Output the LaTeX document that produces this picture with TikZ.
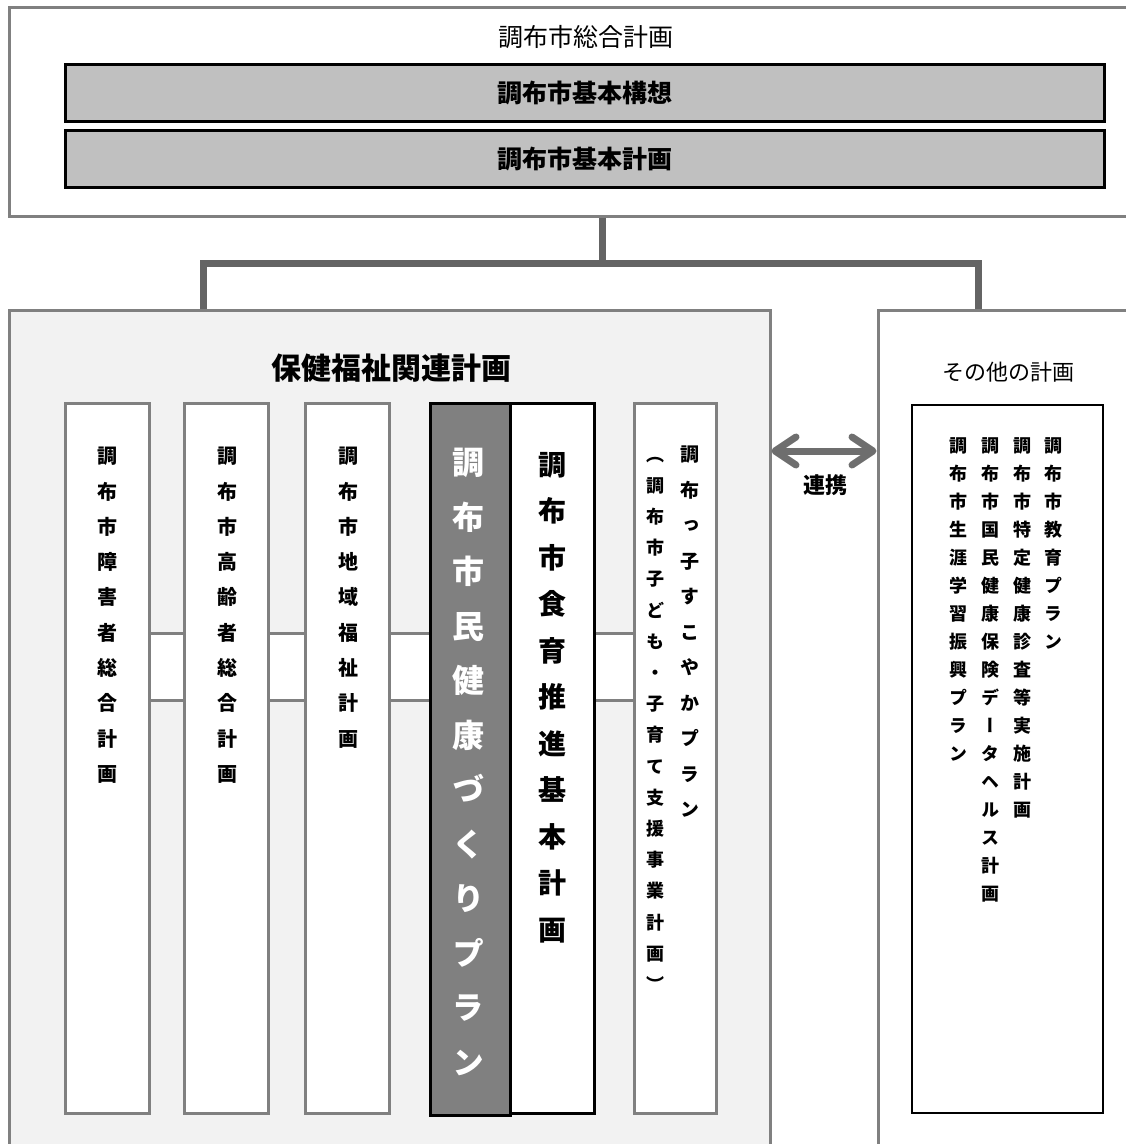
\documentclass[tikz,border=0pt]{standalone}
\usepackage{fontspec}
\usepackage{tikz}
\usetikzlibrary{positioning, arrows.meta}

\newfontfamily\gothic{Noto Sans CJK JP}
\newfontfamily\tategothic{Noto Sans CJK JP}[RawFeature=+vert]

\definecolor{frameGray}{HTML}{808080}
\definecolor{lineGray}{HTML}{646464}
\definecolor{arrowGray}{HTML}{6E6E6E}
\definecolor{boxGray}{HTML}{C0C0C0}
\definecolor{paleGray}{HTML}{F2F2F2}
\definecolor{darkGray}{HTML}{808080}

\begin{document}
\begin{tikzpicture}[x=1pt, y=-1pt,
  grayframe/.style={draw=frameGray, line width=3pt, inner sep=0pt},
  plan/.style={draw=black, line width=3pt, fill=boxGray, minimum width=1039pt, minimum height=57pt, inner sep=0pt, font=\gothic\bfseries\fontsize{25}{25}\selectfont},
  col/.style={grayframe, fill=white, minimum width=84pt, minimum height=710pt},
  vtxt/.style={align=center, inner sep=0pt, anchor=north},
  conn/.style={draw=lineGray, line width=7pt},
  band/.style={draw=frameGray, line width=3pt},
  renkei/.style={draw=arrowGray, line width=7pt, {Straight Barb[round, length=21pt, width=28pt]}-{Straight Barb[round, length=21pt, width=28pt]}}
]
  \useasboundingbox (0,0) rectangle (1126,1144);
  \clip (0,0) rectangle (1126,1144);
  \fill[white] (0,0) rectangle (1126,1144);

  % 総合計画
  \node[grayframe, minimum width=1131pt, minimum height=209.5pt] (sogo) at (574.5,111.75) {};
  \node[font=\gothic\fontsize{25}{25}\selectfont] (sogoT) at (586,37) {調布市総合計画};
  \node[plan] (koso) at (584.5,93) {調布市基本構想};
  \node[plan] (kihon) at (584.5,159) {調布市基本計画};

  % 下の二つの枠
  \node[grayframe, fill=paleGray, minimum width=761pt, minimum height=850pt] (hoken) at (389.5,735) {};
  \node[font=\gothic\bfseries\fontsize{30}{30}\selectfont] (hokenT) at (391,368) {保健福祉関連計画};
  \node[grayframe, fill=white, minimum width=262pt, minimum height=850pt] (sonota) at (1009,735) {};
  \node[font=\gothic\fontsize{22}{22}\selectfont] (sonotaT) at (1008,372) {その他の計画};
  \node[draw=black, line width=1.5pt, fill=white, minimum width=191pt, minimum height=708pt] (sonotaList) at (1007.5,759) {};

  \coordinate (hub) at (602,263);
  \coordinate (dropL) at (203,263);
  \coordinate (dropR) at (978,263);
  \draw[conn] (sogo.south -| hub) -- (hub);
  \draw[conn] (hoken.north -| dropL) -- (dropL) -- (dropR) -- (sonota.north -| dropR);

  % 計画の柱
  \node[col] (shogai) at (107,758) {};
  \node[col] (korei) at (226.5,758) {};
  \node[col] (chiiki) at (347.5,758) {};
  \node[col, draw=black] (shokuiku) at (552,758) {};
  \node[col, draw=black, fill=darkGray, minimum width=80pt, minimum height=712pt] (kenko) at (470,759) {};
  \node[col, minimum width=82pt] (sukoyaka) at (675,758) {};

  \coordinate (bandTop) at (0,633);
  \coordinate (bandBot) at (0,700);
  \foreach \a/\b in {shogai/korei, korei/chiiki, chiiki/kenko, shokuiku/sukoyaka} {
    \fill[white] (\a.east |- bandTop) rectangle (\b.west |- bandBot);
    \draw[band] (\a.east |- bandTop) -- (\b.west |- bandTop);
    \draw[band] (\a.east |- bandBot) -- (\b.west |- bandBot);
  }

  \node[vtxt, font=\tategothic\bfseries\fontsize{20}{35.3}\selectfont] (shogaiT) at (107,447) {調\\布\\市\\障\\害\\者\\総\\合\\計\\画};
  \node[vtxt, font=\tategothic\bfseries\fontsize{20}{35.3}\selectfont] (koreiT) at (227,447) {調\\布\\市\\高\\齢\\者\\総\\合\\計\\画};
  \node[vtxt, font=\tategothic\bfseries\fontsize{20}{35.3}\selectfont] (chiikiT) at (348,447) {調\\布\\市\\地\\域\\福\\祉\\計\\画};
  \node[vtxt, text=white, font=\tategothic\bfseries\fontsize{32}{54.5}\selectfont] (kenkoT) at (468,448) {調\\布\\市\\民\\健\\康\\づ\\く\\り\\プ\\ラ\\ン};
  \node[vtxt, font=\tategothic\bfseries\fontsize{28}{46.5}\selectfont] (shokuikuT) at (552,452) {調\\布\\市\\食\\育\\推\\進\\基\\本\\計\\画};
  \node[vtxt, font=\tategothic\bfseries\fontsize{19}{35.5}\selectfont] (sukoyakaT) at (690,446) {調\\布\\っ\\子\\す\\こ\\や\\か\\プ\\ラ\\ン};
  \node[vtxt, font=\tategothic\bfseries\fontsize{18}{31.2}\selectfont] (kosodateT) at (655,446) {\vphantom{調}（\\調\\布\\市\\子\\ど\\も\\・\\子\\育\\て\\支\\援\\事\\業\\計\\画\\）};

  % その他の計画の中身
  \node[vtxt, font=\tategothic\bfseries\fontsize{18}{28}\selectfont] (shogaiGaku) at (958,437) {調\\布\\市\\生\\涯\\学\\習\\振\\興\\プ\\ラ\\ン};
  \node[vtxt, font=\tategothic\bfseries\fontsize{18}{28}\selectfont] (kokuho) at (990,437) {調\\布\\市\\国\\民\\健\\康\\保\\険\\デ\\ー\\タ\\ヘ\\ル\\ス\\計\\画};
  \node[vtxt, font=\tategothic\bfseries\fontsize{18}{28}\selectfont] (tokutei) at (1022,437) {調\\布\\市\\特\\定\\健\\康\\診\\査\\等\\実\\施\\計\\画};
  \node[vtxt, font=\tategothic\bfseries\fontsize{18}{28}\selectfont] (kyoiku) at (1053,437) {調\\布\\市\\教\\育\\プ\\ラ\\ン};

  % 連携
  \coordinate (rk) at (824,451);
  \draw[renkei] (hoken.east |- rk) -- (sonota.west |- rk);
  \node[font=\gothic\bfseries\fontsize{22}{22}\selectfont] (renkeiT) at (825,485) {連携};
\end{tikzpicture}
\end{document}
